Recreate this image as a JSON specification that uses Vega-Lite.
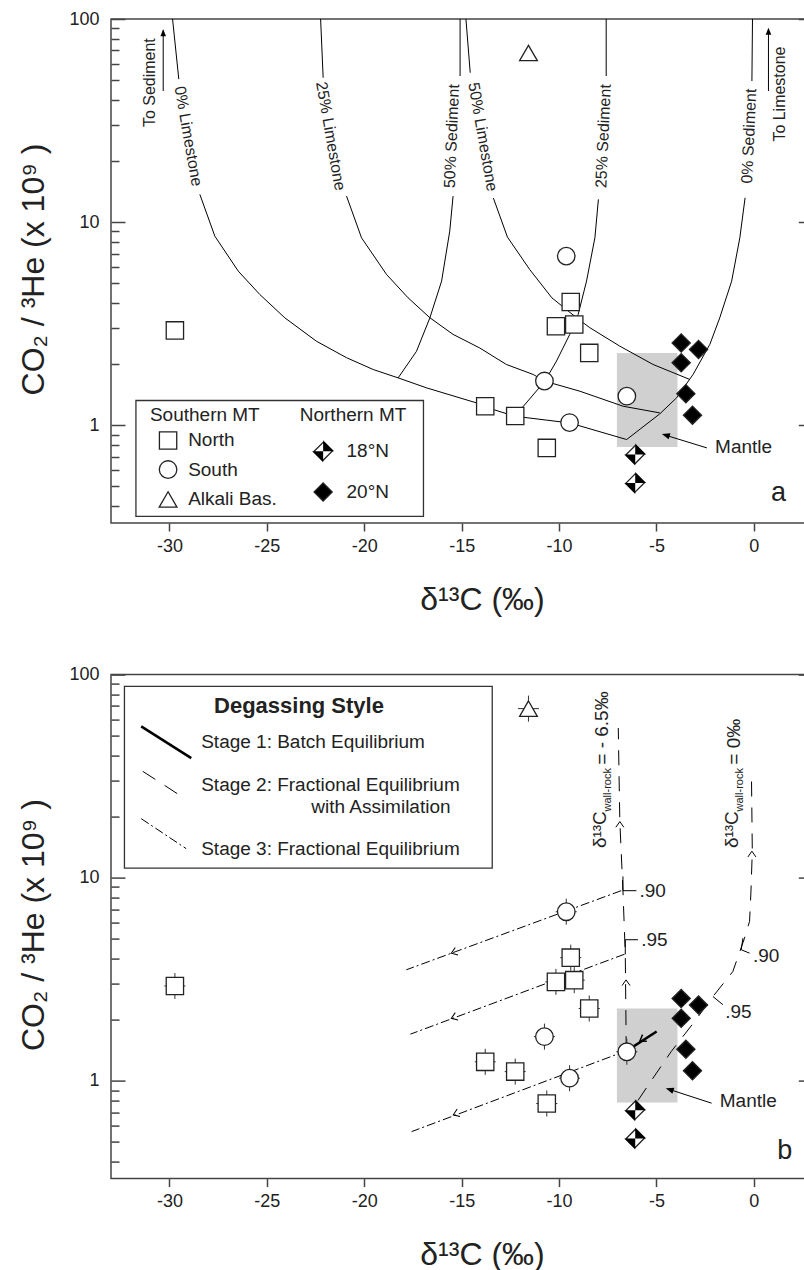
{
  "$schema": "https://vega.github.io/schema/vega-lite/v6.json",
  "padding": {"left": 17, "top": 9, "right": -8, "bottom": 0},
  "spacing": 151.6,
  "bounds": "flush",
  "config": {
    "font": "Liberation Sans",
    "view": {"stroke": "#444", "strokeWidth": 1.5},
    "axis": {"labelFont": "Liberation Sans", "titleFont": "Liberation Sans"}
  },
  "datasets": {
    "pts": [
      {"grp": "North", "x": -29.72, "y": 2.93},
      {"grp": "North", "x": -13.79, "y": 1.24},
      {"grp": "North", "x": -12.25, "y": 1.11},
      {"grp": "North", "x": -10.63, "y": 0.773},
      {"grp": "North", "x": -10.16, "y": 3.07},
      {"grp": "North", "x": -9.4, "y": 4.04},
      {"grp": "North", "x": -9.22, "y": 3.13},
      {"grp": "North", "x": -8.45, "y": 2.27},
      {"grp": "South", "x": -10.75, "y": 1.65},
      {"grp": "South", "x": -9.46, "y": 1.03},
      {"grp": "South", "x": -6.52, "y": 1.39},
      {"grp": "South", "x": -9.63, "y": 6.8},
      {"grp": "Alkali", "x": -11.57, "y": 68},
      {"grp": "18N", "x": -6.09, "y": 0.717},
      {"grp": "18N", "x": -6.09, "y": 0.52},
      {"grp": "20N", "x": -3.73, "y": 2.54},
      {"grp": "20N", "x": -2.84, "y": 2.36},
      {"grp": "20N", "x": -3.73, "y": 2.03},
      {"grp": "20N", "x": -3.49, "y": 1.43},
      {"grp": "20N", "x": -3.15, "y": 1.12}
    ],
    "mantle": [{"x": -7.03, "x2": -3.92, "y": 0.782, "y2": 2.27}],
    "legboxA": [{"x": -31.72, "x2": -16.96, "y": 0.356, "y2": 1.323}],
    "legboxB": [{"x": -32.31, "x2": -13.43, "y": 11.15, "y2": 87.6}],
    "legsymA": [
      {"grp": "North", "x": -30.07, "y": 0.841},
      {"grp": "South", "x": -30.07, "y": 0.605},
      {"grp": "Alkali", "x": -30.07, "y": 0.431},
      {"grp": "18N", "x": -22.11, "y": 0.744},
      {"grp": "20N", "x": -22.11, "y": 0.469}
    ],
    "curvesA": [
      {"s": "A1", "o": 0, "x": -29.84, "y": 100}, {"s": "A1", "o": 1, "x": -29.52, "y": 50.6},
      {"s": "A2", "o": 0, "x": -28.44, "y": 13.69}, {"s": "A2", "o": 1, "x": -27.67, "y": 8.53},
      {"s": "A2", "o": 2, "x": -26.47, "y": 5.74}, {"s": "A2", "o": 3, "x": -25.36, "y": 4.4},
      {"s": "A2", "o": 4, "x": -24.08, "y": 3.38}, {"s": "A2", "o": 5, "x": -22.45, "y": 2.59},
      {"s": "A2", "o": 6, "x": -20.91, "y": 2.15}, {"s": "A2", "o": 7, "x": -19.54, "y": 1.88},
      {"s": "A2", "o": 8, "x": -18.26, "y": 1.71}, {"s": "A2", "o": 9, "x": -16.8, "y": 1.527},
      {"s": "A2", "o": 10, "x": -14.24, "y": 1.288}, {"s": "A2", "o": 11, "x": -13.38, "y": 1.195},
      {"s": "A2", "o": 12, "x": -12.27, "y": 1.107}, {"s": "A2", "o": 13, "x": -9.45, "y": 1.026},
      {"s": "A2", "o": 14, "x": -6.53, "y": 0.85},
      {"s": "B1", "o": 0, "x": -15.08, "y": 100}, {"s": "B1", "o": 1, "x": -15.08, "y": 52.4},
      {"s": "B2", "o": 0, "x": -15.44, "y": 13.43}, {"s": "B2", "o": 1, "x": -15.61, "y": 9.03},
      {"s": "B2", "o": 2, "x": -16.03, "y": 5.12}, {"s": "B2", "o": 3, "x": -16.63, "y": 3.38},
      {"s": "B2", "o": 4, "x": -17.32, "y": 2.31}, {"s": "B2", "o": 5, "x": -18.26, "y": 1.71},
      {"s": "C1", "o": 0, "x": -22.24, "y": 100}, {"s": "C1", "o": 1, "x": -22.11, "y": 51.4},
      {"s": "C2", "o": 0, "x": -20.91, "y": 13.43}, {"s": "C2", "o": 1, "x": -20.14, "y": 8.37},
      {"s": "C2", "o": 2, "x": -18.86, "y": 5.53}, {"s": "C2", "o": 3, "x": -17.75, "y": 4.24},
      {"s": "C2", "o": 4, "x": -16.63, "y": 3.38}, {"s": "C2", "o": 5, "x": -15.44, "y": 2.8},
      {"s": "C2", "o": 6, "x": -14.07, "y": 2.4}, {"s": "C2", "o": 7, "x": -12.7, "y": 1.99},
      {"s": "C2", "o": 8, "x": -11.33, "y": 1.778}, {"s": "C2", "o": 9, "x": -10.73, "y": 1.647},
      {"s": "C2", "o": 10, "x": -8.93, "y": 1.47}, {"s": "C2", "o": 11, "x": -6.71, "y": 1.24},
      {"s": "C2", "o": 12, "x": -4.83, "y": 1.15},
      {"s": "D1", "o": 0, "x": -14.78, "y": 100}, {"s": "D1", "o": 1, "x": -14.56, "y": 54.4},
      {"s": "D2", "o": 0, "x": -13.37, "y": 13.13}, {"s": "D2", "o": 1, "x": -12.65, "y": 8.44},
      {"s": "D2", "o": 2, "x": -11.5, "y": 5.83}, {"s": "D2", "o": 3, "x": -10.37, "y": 4.24},
      {"s": "D2", "o": 4, "x": -9.1, "y": 3.38}, {"s": "D2", "o": 5, "x": -8.42, "y": 3.02},
      {"s": "D2", "o": 6, "x": -6.88, "y": 2.45}, {"s": "D2", "o": 7, "x": -5.17, "y": 1.99},
      {"s": "D2", "o": 8, "x": -3.29, "y": 1.68},
      {"s": "E1", "o": 0, "x": -7.58, "y": 100}, {"s": "E1", "o": 1, "x": -7.58, "y": 52.4},
      {"s": "E2", "o": 0, "x": -7.98, "y": 12.94}, {"s": "E2", "o": 1, "x": -8.16, "y": 8.37},
      {"s": "E2", "o": 2, "x": -8.59, "y": 5.12}, {"s": "E2", "o": 3, "x": -9.02, "y": 3.51},
      {"s": "E2", "o": 4, "x": -9.45, "y": 2.8}, {"s": "E2", "o": 5, "x": -10.13, "y": 2.07},
      {"s": "E2", "o": 6, "x": -10.73, "y": 1.647}, {"s": "E2", "o": 7, "x": -12.27, "y": 1.107},
      {"s": "F1", "o": 0, "x": -0.07, "y": 100}, {"s": "F1", "o": 1, "x": -0.1, "y": 49.5},
      {"s": "F2", "o": 0, "x": -0.45, "y": 13.17}, {"s": "F2", "o": 1, "x": -0.72, "y": 8.37},
      {"s": "F2", "o": 2, "x": -1.14, "y": 5.12}, {"s": "F2", "o": 3, "x": -1.75, "y": 3.38},
      {"s": "F2", "o": 4, "x": -2.26, "y": 2.5}, {"s": "F2", "o": 5, "x": -3.12, "y": 1.778},
      {"s": "F2", "o": 6, "x": -3.97, "y": 1.363}, {"s": "F2", "o": 7, "x": -4.83, "y": 1.137},
      {"s": "F2", "o": 8, "x": -6.53, "y": 0.85},
      {"s": "toS", "o": 0, "x": -30.32, "y": 44.2}, {"s": "toS", "o": 1, "x": -30.32, "y": 88},
      {"s": "toL", "o": 0, "x": 0.75, "y": 44.2}, {"s": "toL", "o": 1, "x": 0.75, "y": 89},
      {"s": "man", "o": 0, "x": -2.41, "y": 0.773}, {"s": "man", "o": 1, "x": -4.6, "y": 0.897}
    ],
    "headsA": [
      {"k": "up", "x": -30.32, "y": 89.0},
      {"k": "up", "x": 0.75, "y": 90.6},
      {"k": "man", "x": -4.72, "y": 0.906}
    ],
    "textA": [
      {"k": "lime", "t": "0% Limestone", "x": -29.04, "y": 26.5},
      {"k": "lime", "t": "25% Limestone", "x": -21.73, "y": 26.5},
      {"k": "lime", "t": "50% Limestone", "x": -13.92, "y": 26.3},
      {"k": "sed", "t": "50% Sediment", "x": -15.5, "y": 26.5},
      {"k": "sed", "t": "25% Sediment", "x": -7.72, "y": 26.5},
      {"k": "sed", "t": "0% Sediment", "x": -0.24, "y": 26.5},
      {"k": "to", "t": "To Sediment", "x": -31.0, "y": 48.6},
      {"k": "to", "t": "To Limestone", "x": 1.33, "y": 42.7},
      {"k": "left", "t": "Southern MT", "x": -31.0, "y": 1.129},
      {"k": "left", "t": "North", "x": -29.04, "y": 0.841},
      {"k": "left", "t": "South", "x": -29.04, "y": 0.605},
      {"k": "left", "t": "Alkali Bas.", "x": -29.04, "y": 0.431},
      {"k": "left", "t": "Northern MT", "x": -23.31, "y": 1.129},
      {"k": "left", "t": "18°N", "x": -20.91, "y": 0.744},
      {"k": "left", "t": "20°N", "x": -20.91, "y": 0.469},
      {"k": "left", "t": "Mantle", "x": -1.99, "y": 0.782},
      {"k": "letter", "t": "a", "x": 1.27, "y": 0.464}
    ],
    "linesB": [
      {"s": "s1", "o": 0, "x": -4.99, "y": 1.75}, {"s": "s1", "o": 1, "x": -6.55, "y": 1.4},
      {"s": "leg1", "o": 0, "x": -31.45, "y": 55.6}, {"s": "leg1", "o": 1, "x": -28.88, "y": 38.8},
      {"s": "s2a", "o": 0, "x": -6.55, "y": 1.4}, {"s": "s2a", "o": 1, "x": -6.6, "y": 4.2},
      {"s": "s2a", "o": 2, "x": -6.72, "y": 8.63}, {"s": "s2a", "o": 3, "x": -6.88, "y": 18.9},
      {"s": "s2a", "o": 4, "x": -6.96, "y": 54.6},
      {"s": "s2b", "o": 0, "x": -5.95, "y": 0.8}, {"s": "s2b", "o": 1, "x": -5.18, "y": 1.03},
      {"s": "s2b", "o": 2, "x": -4.24, "y": 1.394}, {"s": "s2b", "o": 3, "x": -3.04, "y": 1.96},
      {"s": "s2b", "o": 4, "x": -2.1, "y": 2.6}, {"s": "s2b", "o": 5, "x": -1.08, "y": 3.45},
      {"s": "s2b", "o": 6, "x": -0.48, "y": 5.04}, {"s": "s2b", "o": 7, "x": -0.22, "y": 6.1},
      {"s": "s2b", "o": 8, "x": -0.15, "y": 8.5}, {"s": "s2b", "o": 9, "x": -0.08, "y": 13.5},
      {"s": "s2b", "o": 10, "x": -0.12, "y": 30.4},
      {"s": "leg2", "o": 0, "x": -31.37, "y": 33.4}, {"s": "leg2", "o": 1, "x": -29.31, "y": 24.9},
      {"s": "s3a", "o": 0, "x": -6.81, "y": 8.63}, {"s": "s3a", "o": 1, "x": -17.84, "y": 3.52},
      {"s": "s3b", "o": 0, "x": -6.64, "y": 4.2}, {"s": "s3b", "o": 1, "x": -17.63, "y": 1.697},
      {"s": "s3c", "o": 0, "x": -6.55, "y": 1.405}, {"s": "s3c", "o": 1, "x": -17.57, "y": 0.562},
      {"s": "leg3", "o": 0, "x": -31.45, "y": 19.53}, {"s": "leg3", "o": 1, "x": -29.14, "y": 13.9},
      {"s": "br1", "o": 0, "x": -6.72, "y": 10.15}, {"s": "br1", "o": 1, "x": -6.72, "y": 8.63}, {"s": "br1", "o": 2, "x": -6.03, "y": 8.63},
      {"s": "br2", "o": 0, "x": -5.95, "y": 4.95}, {"s": "br2", "o": 1, "x": -6.6, "y": 4.95}, {"s": "br2", "o": 2, "x": -6.6, "y": 4.2},
      {"s": "br3", "o": 0, "x": -0.56, "y": 5.04}, {"s": "br3", "o": 1, "x": -0.65, "y": 4.42}, {"s": "br3", "o": 2, "x": -0.22, "y": 4.25},
      {"s": "br4", "o": 0, "x": -2.1, "y": 2.6}, {"s": "br4", "o": 1, "x": -1.59, "y": 2.37},
      {"s": "man", "o": 0, "x": -2.17, "y": 0.776}, {"s": "man", "o": 1, "x": -4.4, "y": 0.911}
    ],
    "chevB": [
      {"k": "dd", "x": -15.53, "y": 4.25},
      {"k": "dd", "x": -15.53, "y": 2.03},
      {"k": "dd", "x": -15.43, "y": 0.68},
      {"k": "up", "x": -6.88, "y": 18.9},
      {"k": "up", "x": -6.56, "y": 3.14},
      {"k": "up", "x": -0.1, "y": 13.5},
      {"k": "s1", "x": -5.85, "y": 1.57}
    ],
    "headsB": [{"k": "man", "x": -4.52, "y": 0.919}],
    "textB": [
      {"k": "bold", "t": "Degassing Style", "x": -23.35, "y": 69.8},
      {"k": "left", "t": "Stage 1: Batch Equilibrium", "x": -28.37, "y": 46.6},
      {"k": "left", "t": "Stage 2: Fractional Equilibrium", "x": -28.37, "y": 28.7},
      {"k": "left", "t": "with Assimilation", "x": -22.72, "y": 22.3},
      {"k": "left", "t": "Stage 3: Fractional Equilibrium", "x": -28.37, "y": 13.8},
      {"k": "left", "t": ".90", "x": -5.87, "y": 8.56},
      {"k": "left", "t": ".95", "x": -5.78, "y": 4.95},
      {"k": "left", "t": ".90", "x": -0.05, "y": 4.1},
      {"k": "left", "t": ".95", "x": -1.47, "y": 2.19},
      {"k": "left", "t": "Mantle", "x": -1.75, "y": 0.791},
      {"k": "rot", "t": "δ¹³C", "x": -7.9, "y": 13.99},
      {"k": "rot", "t": "= - 6.5‰", "x": -7.82, "y": 36.0},
      {"k": "rot", "t": "δ¹³C", "x": -1.14, "y": 13.99},
      {"k": "rot", "t": "= 0‰", "x": -1.04, "y": 36.0},
      {"k": "rotsub", "t": "wall-rock", "x": -7.47, "y": 21.2},
      {"k": "rotsub", "t": "wall-rock", "x": -0.72, "y": 21.2},
      {"k": "letter", "t": "b", "x": 1.59, "y": 0.449}
    ]
  },
  "vconcat": [
    {
      "width": 701.3,
      "height": 504,
      "encoding": {
        "x": {"field": "x", "type": "quantitative", "scale": {"domain": [-33, 3], "nice": false, "zero": false},
          "axis": {"values": [-30, -25, -20, -15, -10, -5, 0], "tickSize": 8, "tickColor": "#444", "tickWidth": 1.5, "domain": false, "grid": false,
            "labelFontSize": 18, "labelColor": "#222", "labelPadding": 6, "labelFlush": false,
            "labelExpr": "datum.value < 0 ? '-' + abs(datum.value) : '' + datum.value",
            "title": "δ¹³C (‰)", "titleFontSize": 32, "titleFontWeight": "normal", "titleColor": "#222",
            "titleX": 371, "titleY": 76, "titleAlign": "center", "titleBaseline": "middle"}},
        "y": {"field": "y", "type": "quantitative", "scale": {"type": "log", "domain": [0.33, 100], "nice": false}, "axis": null}
      },
      "resolve": {"axis": {"y": "independent"}},
      "layer": [
        {"data": {"name": "pts"}, "mark": {"type": "point", "opacity": 0},
          "encoding": {"y": {"field": "y", "type": "quantitative", "scale": {"type": "log", "domain": [0.33, 100], "nice": false},
            "axis": {"orient": "left", "values": [1, 10, 100], "tickSize": -14, "tickColor": "#444", "tickWidth": 1.5, "domain": false, "grid": false,
              "labelFontSize": 18, "labelColor": "#222", "labelPadding": 26, "labelExpr": "format(datum.value, 'd')",
              "title": "CO₂ / ³He (x 10⁹ )", "titleFontSize": 32, "titleFontWeight": "normal", "titleColor": "#222",
              "titleX": -77, "titleY": 250, "titleAngle": 270, "titleAlign": "center", "titleBaseline": "middle"}}}},
        {"data": {"name": "pts"}, "mark": {"type": "point", "opacity": 0},
          "encoding": {"y": {"field": "y", "type": "quantitative", "scale": {"type": "log", "domain": [0.33, 100], "nice": false},
            "axis": {"orient": "left", "values": [0.4, 0.5, 0.6, 0.7, 0.8, 0.9, 2, 3, 4, 5, 6, 7, 8, 9, 20, 30, 40, 50, 60, 70, 80, 90],
              "tickSize": -8, "tickColor": "#444", "tickWidth": 1.5, "domain": false, "grid": false, "labels": false, "title": null}}}},
        {"data": {"name": "pts"}, "mark": {"type": "point", "opacity": 0},
          "encoding": {"y": {"field": "y", "type": "quantitative", "scale": {"type": "log", "domain": [0.33, 100], "nice": false},
            "axis": {"orient": "right", "values": [1, 10, 100], "tickSize": -14, "tickColor": "#444", "tickWidth": 1.5, "domain": false, "grid": false, "labels": false, "title": null}}}},
        {"data": {"name": "pts"}, "mark": {"type": "point", "opacity": 0},
          "encoding": {"y": {"field": "y", "type": "quantitative", "scale": {"type": "log", "domain": [0.33, 100], "nice": false},
            "axis": {"orient": "right", "values": [0.4, 0.5, 0.6, 0.7, 0.8, 0.9, 2, 3, 4, 5, 6, 7, 8, 9, 20, 30, 40, 50, 60, 70, 80, 90],
              "tickSize": -8, "tickColor": "#444", "tickWidth": 1.5, "domain": false, "grid": false, "labels": false, "title": null}}}},
        {"data": {"name": "mantle"}, "mark": {"type": "rect", "fill": "#d0d0d0"},
          "encoding": {"x2": {"field": "x2"}, "y2": {"field": "y2"}}},
        {"data": {"name": "curvesA"}, "mark": {"type": "line", "stroke": "black", "strokeWidth": 1},
          "encoding": {"detail": {"field": "s", "type": "nominal"}, "order": {"field": "o", "type": "quantitative"}}},
        {"data": {"name": "headsA"}, "transform": [{"filter": "datum.k == 'up'"}],
          "mark": {"type": "point", "shape": "M0,0L-1,-0.4L-1,0.4Z", "size": 196, "filled": true, "color": "black", "opacity": 1, "strokeWidth": 0, "angle": 270}},
        {"data": {"name": "headsA"}, "transform": [{"filter": "datum.k == 'man'"}],
          "mark": {"type": "point", "shape": "M0,0L-1,-0.4L-1,0.4Z", "size": 256, "filled": true, "color": "black", "opacity": 1, "strokeWidth": 0, "angle": 197.3}},
        {"data": {"name": "pts"},
          "mark": {"type": "point", "filled": true, "opacity": 1, "stroke": "#222", "strokeWidth": 1.3},
          "encoding": {
            "shape": {"field": "grp", "type": "nominal", "scale": {"domain": ["North", "South", "Alkali", "18N", "20N"], "range": ["square", "circle", "triangle-up", "diamond", "diamond"]}, "legend": null},
            "fill": {"field": "grp", "type": "nominal", "scale": {"domain": ["North", "South", "Alkali", "18N", "20N"], "range": ["white", "white", "white", "white", "black"]}, "legend": null},
            "size": {"field": "grp", "type": "ordinal", "scale": {"domain": ["North", "South", "Alkali", "18N", "20N"], "range": [300, 330, 400, 484, 484]}, "legend": null}}},
        {"data": {"name": "pts"}, "transform": [{"filter": "datum.grp == '18N'"}],
          "mark": {"type": "point", "shape": "M0,-1L1,0L0,0ZM0,1L-1,0L0,0Z", "size": 484, "filled": true, "color": "black", "opacity": 1, "strokeWidth": 0}},
        {"data": {"name": "legboxA"}, "mark": {"type": "rect", "fill": "white", "stroke": "#333", "strokeWidth": 1.3},
          "encoding": {"x2": {"field": "x2"}, "y2": {"field": "y2"}}},
        {"data": {"name": "legsymA"},
          "mark": {"type": "point", "filled": true, "opacity": 1, "stroke": "#222", "strokeWidth": 1.3},
          "encoding": {
            "shape": {"field": "grp", "type": "nominal", "scale": {"domain": ["North", "South", "Alkali", "18N", "20N"], "range": ["square", "circle", "triangle-up", "diamond", "diamond"]}, "legend": null},
            "fill": {"field": "grp", "type": "nominal", "scale": {"domain": ["North", "South", "Alkali", "18N", "20N"], "range": ["white", "white", "white", "white", "black"]}, "legend": null},
            "size": {"field": "grp", "type": "ordinal", "scale": {"domain": ["North", "South", "Alkali", "18N", "20N"], "range": [300, 330, 400, 484, 484]}, "legend": null}}},
        {"data": {"name": "legsymA"}, "transform": [{"filter": "datum.grp == '18N'"}],
          "mark": {"type": "point", "shape": "M0,-1L1,0L0,0ZM0,1L-1,0L0,0Z", "size": 484, "filled": true, "color": "black", "opacity": 1, "strokeWidth": 0}},
        {"data": {"name": "textA"}, "transform": [{"filter": "datum.k == 'lime'"}],
          "mark": {"type": "text", "align": "center", "baseline": "middle", "fontSize": 16, "color": "#222", "angle": 80},
          "encoding": {"text": {"field": "t"}}},
        {"data": {"name": "textA"}, "transform": [{"filter": "datum.k == 'sed'"}],
          "mark": {"type": "text", "align": "center", "baseline": "middle", "fontSize": 16, "color": "#222", "angle": 272.5},
          "encoding": {"text": {"field": "t"}}},
        {"data": {"name": "textA"}, "transform": [{"filter": "datum.k == 'to'"}],
          "mark": {"type": "text", "align": "center", "baseline": "middle", "fontSize": 16, "color": "#222", "angle": 270},
          "encoding": {"text": {"field": "t"}}},
        {"data": {"name": "textA"}, "transform": [{"filter": "datum.k == 'left'"}],
          "mark": {"type": "text", "align": "left", "baseline": "middle", "fontSize": 19, "color": "#222"},
          "encoding": {"text": {"field": "t"}}},
        {"data": {"name": "textA"}, "transform": [{"filter": "datum.k == 'letter'"}],
          "mark": {"type": "text", "align": "center", "baseline": "middle", "fontSize": 27, "color": "#222"},
          "encoding": {"text": {"field": "t"}}}
      ]
    },
    {
      "width": 701.3,
      "height": 504,
      "encoding": {
        "x": {"field": "x", "type": "quantitative", "scale": {"domain": [-33, 3], "nice": false, "zero": false},
          "axis": {"values": [-30, -25, -20, -15, -10, -5, 0], "tickSize": 8, "tickColor": "#444", "tickWidth": 1.5, "domain": false, "grid": false,
            "labelFontSize": 18, "labelColor": "#222", "labelPadding": 6, "labelFlush": false,
            "labelExpr": "datum.value < 0 ? '-' + abs(datum.value) : '' + datum.value",
            "title": "δ¹³C (‰)", "titleFontSize": 32, "titleFontWeight": "normal", "titleColor": "#222",
            "titleX": 371, "titleY": 76, "titleAlign": "center", "titleBaseline": "middle"}},
        "y": {"field": "y", "type": "quantitative", "scale": {"type": "log", "domain": [0.33, 100], "nice": false}, "axis": null}
      },
      "resolve": {"axis": {"y": "independent"}},
      "layer": [
        {"data": {"name": "pts"}, "mark": {"type": "point", "opacity": 0},
          "encoding": {"y": {"field": "y", "type": "quantitative", "scale": {"type": "log", "domain": [0.33, 100], "nice": false},
            "axis": {"orient": "left", "values": [1, 10, 100], "tickSize": -14, "tickColor": "#444", "tickWidth": 1.5, "domain": false, "grid": false,
              "labelFontSize": 18, "labelColor": "#222", "labelPadding": 26, "labelExpr": "format(datum.value, 'd')",
              "title": "CO₂ / ³He (x 10⁹ )", "titleFontSize": 32, "titleFontWeight": "normal", "titleColor": "#222",
              "titleX": -77, "titleY": 250, "titleAngle": 270, "titleAlign": "center", "titleBaseline": "middle"}}}},
        {"data": {"name": "pts"}, "mark": {"type": "point", "opacity": 0},
          "encoding": {"y": {"field": "y", "type": "quantitative", "scale": {"type": "log", "domain": [0.33, 100], "nice": false},
            "axis": {"orient": "left", "values": [0.4, 0.5, 0.6, 0.7, 0.8, 0.9, 2, 3, 4, 5, 6, 7, 8, 9, 20, 30, 40, 50, 60, 70, 80, 90],
              "tickSize": -8, "tickColor": "#444", "tickWidth": 1.5, "domain": false, "grid": false, "labels": false, "title": null}}}},
        {"data": {"name": "pts"}, "mark": {"type": "point", "opacity": 0},
          "encoding": {"y": {"field": "y", "type": "quantitative", "scale": {"type": "log", "domain": [0.33, 100], "nice": false},
            "axis": {"orient": "right", "values": [1, 10, 100], "tickSize": -14, "tickColor": "#444", "tickWidth": 1.5, "domain": false, "grid": false, "labels": false, "title": null}}}},
        {"data": {"name": "pts"}, "mark": {"type": "point", "opacity": 0},
          "encoding": {"y": {"field": "y", "type": "quantitative", "scale": {"type": "log", "domain": [0.33, 100], "nice": false},
            "axis": {"orient": "right", "values": [0.4, 0.5, 0.6, 0.7, 0.8, 0.9, 2, 3, 4, 5, 6, 7, 8, 9, 20, 30, 40, 50, 60, 70, 80, 90],
              "tickSize": -8, "tickColor": "#444", "tickWidth": 1.5, "domain": false, "grid": false, "labels": false, "title": null}}}},
        {"data": {"name": "mantle"}, "mark": {"type": "rect", "fill": "#d0d0d0"},
          "encoding": {"x2": {"field": "x2"}, "y2": {"field": "y2"}}},
        {"data": {"name": "legboxB"}, "mark": {"type": "rect", "fill": "white", "stroke": "#333", "strokeWidth": 1.3},
          "encoding": {"x2": {"field": "x2"}, "y2": {"field": "y2"}}},
        {"data": {"name": "linesB"}, "transform": [{"filter": {"field": "s", "oneOf": ["s3a", "s3b", "s3c", "leg3"]}}],
          "mark": {"type": "line", "stroke": "black", "strokeWidth": 1, "strokeDash": [9, 3, 2, 3]},
          "encoding": {"detail": {"field": "s", "type": "nominal"}, "order": {"field": "o", "type": "quantitative"}}},
        {"data": {"name": "linesB"}, "transform": [{"filter": {"field": "s", "oneOf": ["s2a", "s2b", "leg2"]}}],
          "mark": {"type": "line", "stroke": "black", "strokeWidth": 1, "strokeDash": [15, 11]},
          "encoding": {"detail": {"field": "s", "type": "nominal"}, "order": {"field": "o", "type": "quantitative"}}},
        {"data": {"name": "linesB"}, "transform": [{"filter": {"field": "s", "oneOf": ["br1", "br2", "br3", "br4", "man"]}}],
          "mark": {"type": "line", "stroke": "black", "strokeWidth": 1},
          "encoding": {"detail": {"field": "s", "type": "nominal"}, "order": {"field": "o", "type": "quantitative"}}},
        {"data": {"name": "linesB"}, "transform": [{"filter": {"field": "s", "oneOf": ["s1", "leg1"]}}],
          "mark": {"type": "line", "stroke": "black", "strokeWidth": 2.5},
          "encoding": {"detail": {"field": "s", "type": "nominal"}, "order": {"field": "o", "type": "quantitative"}}},
        {"data": {"name": "chevB"}, "transform": [{"filter": "datum.k == 'dd'"}],
          "mark": {"type": "point", "shape": "M-1,-0.7L0,0L-1,0.7", "size": 130, "filled": false, "stroke": "black", "strokeWidth": 1, "opacity": 1, "angle": 159.5}},
        {"data": {"name": "chevB"}, "transform": [{"filter": "datum.k == 'up'"}],
          "mark": {"type": "point", "shape": "M-1,-0.7L0,0L-1,0.7", "size": 130, "filled": false, "stroke": "black", "strokeWidth": 1, "opacity": 1, "angle": 270}},
        {"data": {"name": "chevB"}, "transform": [{"filter": "datum.k == 's1'"}],
          "mark": {"type": "point", "shape": "M-1,-0.7L0,0L-1,0.7", "size": 130, "filled": false, "stroke": "black", "strokeWidth": 1.5, "opacity": 1, "angle": 147.5}},
        {"data": {"name": "headsB"},
          "mark": {"type": "point", "shape": "M0,0L-1,-0.4L-1,0.4Z", "size": 256, "filled": true, "color": "black", "opacity": 1, "strokeWidth": 0, "angle": 198.2}},
        {"data": {"name": "pts"}, "transform": [{"filter": {"field": "grp", "oneOf": ["North", "South", "Alkali"]}}],
          "mark": {"type": "point", "shape": "M0,-1.24L0,1.24M-1,0L1,0", "size": 441, "filled": false, "stroke": "#333", "strokeWidth": 1, "opacity": 1}},
        {"data": {"name": "pts"},
          "mark": {"type": "point", "filled": true, "opacity": 1, "stroke": "#222", "strokeWidth": 1.3},
          "encoding": {
            "shape": {"field": "grp", "type": "nominal", "scale": {"domain": ["North", "South", "Alkali", "18N", "20N"], "range": ["square", "circle", "triangle-up", "diamond", "diamond"]}, "legend": null},
            "fill": {"field": "grp", "type": "nominal", "scale": {"domain": ["North", "South", "Alkali", "18N", "20N"], "range": ["white", "white", "white", "white", "black"]}, "legend": null},
            "size": {"field": "grp", "type": "ordinal", "scale": {"domain": ["North", "South", "Alkali", "18N", "20N"], "range": [300, 330, 400, 484, 484]}, "legend": null}}},
        {"data": {"name": "pts"}, "transform": [{"filter": "datum.grp == '18N'"}],
          "mark": {"type": "point", "shape": "M0,-1L1,0L0,0ZM0,1L-1,0L0,0Z", "size": 484, "filled": true, "color": "black", "opacity": 1, "strokeWidth": 0}},
        {"data": {"name": "textB"}, "transform": [{"filter": "datum.k == 'bold'"}],
          "mark": {"type": "text", "align": "center", "baseline": "middle", "fontSize": 22, "fontWeight": "bold", "color": "#222"},
          "encoding": {"text": {"field": "t"}}},
        {"data": {"name": "textB"}, "transform": [{"filter": "datum.k == 'left'"}],
          "mark": {"type": "text", "align": "left", "baseline": "middle", "fontSize": 19, "color": "#222"},
          "encoding": {"text": {"field": "t"}}},
        {"data": {"name": "textB"}, "transform": [{"filter": "datum.k == 'rot'"}],
          "mark": {"type": "text", "align": "left", "baseline": "middle", "fontSize": 19, "color": "#222", "angle": 270},
          "encoding": {"text": {"field": "t"}}},
        {"data": {"name": "textB"}, "transform": [{"filter": "datum.k == 'rotsub'"}],
          "mark": {"type": "text", "align": "left", "baseline": "middle", "fontSize": 11, "color": "#222", "angle": 270},
          "encoding": {"text": {"field": "t"}}},
        {"data": {"name": "textB"}, "transform": [{"filter": "datum.k == 'letter'"}],
          "mark": {"type": "text", "align": "center", "baseline": "middle", "fontSize": 27, "color": "#222"},
          "encoding": {"text": {"field": "t"}}}
      ]
    }
  ]
}
